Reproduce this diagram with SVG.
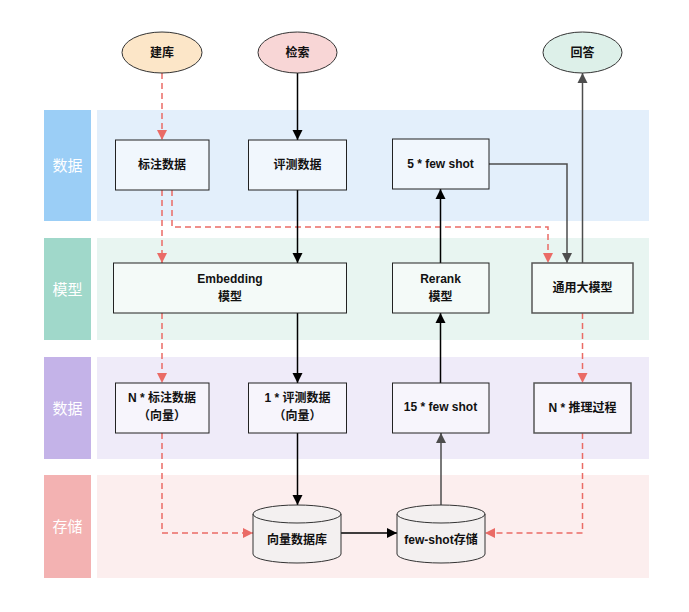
<svg xmlns="http://www.w3.org/2000/svg" width="689" height="612" viewBox="0 0 689 612">
<defs>
<style>
.t{font-family:"Liberation Sans","Noto Sans CJK SC",sans-serif;font-weight:bold;font-size:12px;fill:#111;text-anchor:middle;dominant-baseline:central}
.lab{font-family:"Liberation Sans","Noto Sans CJK SC",sans-serif;font-size:15px;fill:#fff;text-anchor:middle;dominant-baseline:central}
.box{fill:#fff;fill-opacity:0.5;stroke:#222;stroke-width:1}
.boxg{fill:#fff;fill-opacity:0.5;stroke:#555;stroke-width:1.5}
.cyl{fill:#F3F0F0;stroke:#333;stroke-width:1}
.red{fill:none;stroke:#EA6B66;stroke-width:1.5;stroke-dasharray:6 4;marker-end:url(#ar)}
.blk{fill:none;stroke:#000;stroke-width:1.5;marker-end:url(#ab)}
.gry{fill:none;stroke:#4D4D4D;stroke-width:1.5;marker-end:url(#ag)}
</style>
<marker id="ar" markerUnits="userSpaceOnUse" markerWidth="12" markerHeight="12" viewBox="0 0 12 12" refX="11" refY="6" orient="auto"><path d="M1,1 L11,6 L1,11 Z" fill="#EA6B66"/></marker>
<marker id="ab" markerUnits="userSpaceOnUse" markerWidth="12" markerHeight="12" viewBox="0 0 12 12" refX="11" refY="6" orient="auto"><path d="M1,1 L11,6 L1,11 Z" fill="#000"/></marker>
<marker id="ag" markerUnits="userSpaceOnUse" markerWidth="12" markerHeight="12" viewBox="0 0 12 12" refX="11" refY="6" orient="auto"><path d="M1,1 L11,6 L1,11 Z" fill="#4D4D4D"/></marker>
</defs>
<rect width="689" height="612" fill="#fff"/>
<g id="lanes">
<rect x="97" y="110" width="552" height="111" fill="#E3EFFB"/>
<rect x="44" y="110" width="47" height="111" fill="#9BCEF6"/>
<text class="lab" x="67.5" y="165">数据</text>
<rect x="97" y="238" width="552" height="102" fill="#E8F5F1"/>
<rect x="44" y="238" width="47" height="102" fill="#A0D8CA"/>
<text class="lab" x="67.5" y="289">模型</text>
<rect x="97" y="357" width="552" height="102" fill="#EFEBF9"/>
<rect x="44" y="357" width="47" height="102" fill="#C4B3E8"/>
<text class="lab" x="67.5" y="408">数据</text>
<rect x="97" y="475" width="552" height="103" fill="#FCEEEE"/>
<rect x="44" y="475" width="47" height="103" fill="#F3B2B2"/>
<text class="lab" x="67.5" y="526">存储</text>
</g>
<g id="connectors">
<path class="red" d="M162,73 V140"/>
<path class="blk" d="M297.5,73 V140"/>
<path class="red" d="M162,190 V263"/>
<path class="red" d="M172,190 V227 H548 V263"/>
<path class="blk" d="M297.5,190 V263"/>
<path class="red" d="M162,313 V383"/>
<path class="blk" d="M297.5,313 V383"/>
<path class="blk" d="M297.5,433 V505"/>
<path class="red" d="M162,433 V533 H253"/>
<path class="blk" d="M341,533 H397"/>
<path class="gry" d="M441,505 V433"/>
<path class="blk" d="M440.5,383 V313"/>
<path class="blk" d="M440.5,263 V189"/>
<path class="gry" d="M489,164 H567 V263"/>
<path class="gry" d="M582.5,263 V73"/>
<path class="red" d="M582.5,313 V383"/>
<path class="red" d="M582.5,433 V533 H485"/>
</g>
<g id="jianku"><ellipse cx="162" cy="52.5" rx="40" ry="20.5" fill="#FCE6C8" stroke="#333" stroke-width="1"/><text class="t" x="162" y="52.5">建库</text></g>
<g id="jiansuo"><ellipse cx="297.5" cy="52.5" rx="39.5" ry="20.5" fill="#F8D6D6" stroke="#333" stroke-width="1"/><text class="t" x="297.5" y="52.5">检索</text></g>
<g id="huida"><ellipse cx="582.5" cy="52.5" rx="39.5" ry="20.5" fill="#DDF0E9" stroke="#333" stroke-width="1"/><text class="t" x="582.5" y="52.5">回答</text></g>
<g id="biaozhu"><rect class="box" x="115.5" y="140" width="93.5" height="50"/><text class="t" x="162" y="165">标注数据</text></g>
<g id="pingce"><rect class="box" x="248.5" y="140" width="98" height="50"/><text class="t" x="297.5" y="165">评测数据</text></g>
<g id="fewshot5"><rect class="box" x="392.5" y="139" width="96.5" height="50"/><text class="t" x="440.5" y="164">5 * few shot</text></g>
<g id="embedding"><rect class="box" x="113.5" y="263" width="233" height="50"/><text class="t" x="230" y="279">Embedding</text><text class="t" x="230" y="297">模型</text></g>
<g id="rerank"><rect class="box" x="392.5" y="263" width="96.5" height="50"/><text class="t" x="440.5" y="279">Rerank</text><text class="t" x="440.5" y="297">模型</text></g>
<g id="llm"><rect class="boxg" x="532" y="263" width="101" height="50"/><text class="t" x="582.5" y="288">通用大模型</text></g>
<g id="nbiaozhu"><rect class="box" x="115.5" y="383" width="93.5" height="50"/><text class="t" x="162" y="398">N * 标注数据</text><text class="t" x="162" y="416">（向量）</text></g>
<g id="pingcevec"><rect class="box" x="248.5" y="383" width="98" height="50"/><text class="t" x="297.5" y="398">1 * 评测数据</text><text class="t" x="297.5" y="416">（向量）</text></g>
<g id="fewshot15"><rect class="box" x="392.5" y="383" width="96.5" height="50"/><text class="t" x="440.5" y="407">15 * few shot</text></g>
<g id="tuili"><rect class="boxg" x="534" y="383" width="97" height="50"/><text class="t" x="582.5" y="408">N * 推理过程</text></g>
<g id="vectordb"><path class="cyl" d="M253,514 A44,9 0 0 1 341,514 V554 A44,9 0 0 1 253,554 Z"/><path d="M253,514 A44,9 0 0 0 341,514" fill="none" stroke="#333" stroke-width="1"/><text class="t" x="297" y="540">向量数据库</text></g>
<g id="fewshotdb"><path class="cyl" d="M397,514 A44,9 0 0 1 485,514 V554 A44,9 0 0 1 397,554 Z"/><path d="M397,514 A44,9 0 0 0 485,514" fill="none" stroke="#333" stroke-width="1"/><text class="t" x="441" y="540">few-shot存储</text></g>
</svg>
